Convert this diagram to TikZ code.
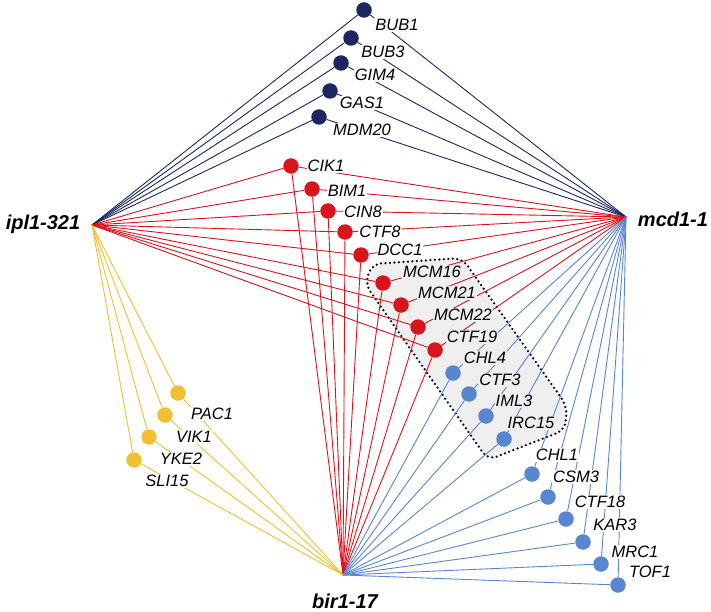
\documentclass[tikz,border=0pt]{standalone}
\usepackage{fontspec}
\setmainfont{Liberation Sans}
\definecolor{navy}{RGB}{28,38,97}
\definecolor{gred}{RGB}{218,20,28}
\definecolor{gyel}{RGB}{240,192,50}
\definecolor{gblue}{RGB}{88,134,208}
\definecolor{regiongray}{RGB}{239,239,239}
\pgfdeclarelayer{region}
\pgfdeclarelayer{lines}
\pgfsetlayers{region,lines,main}
\begin{document}
\begin{tikzpicture}[x=1pt,y=-1pt,
  dot/.style={circle, inner sep=0pt, minimum size=15.5pt},
  glabel/.style={font=\fontsize{16.5}{18}\selectfont\itshape, inner sep=1pt, fill=white},
  rlabel/.style={glabel, fill=regiongray},
  hublabel/.style={font=\fontsize{20}{22}\selectfont\bfseries\itshape, inner sep=0pt},
  nline/.style={draw=navy, line width=0.9pt},
  rline/.style={draw=gred, line width=0.9pt},
  yline/.style={draw=gyel, line width=0.9pt},
  bline/.style={draw=gblue, line width=0.9pt}]
\useasboundingbox (0,0) rectangle (711,612);
% hubs
\coordinate (ipl) at (92,225);
\coordinate (mcd) at (626,217);
\coordinate (bir) at (343,575);
\node[hublabel] (iplL) at (43,224) {ipl1-321};
\node[hublabel] (mcdL) at (673,219) {mcd1-1};
\node[hublabel] (birL) at (345,601) {bir1-17};
% region
\begin{pgfonlayer}{region}
\draw[fill=regiongray, draw=black, line width=2.5pt, dash pattern=on 0pt off 4.5pt, line cap=round, rounded corners=9pt]
  (372,264) -- (462,258) -- (567,406) -- (565,430) -- (488,460) -- (365,284) -- cycle;
\end{pgfonlayer}
% navy dots
\foreach \n/\x/\y in {BUB1/364/10, BUB3/351/38, GIM4/341/63, GAS1/330/91, MDM20/319/117}{
  \node[dot, fill=navy] (\n) at (\x,\y) {};
  \begin{pgfonlayer}{lines}
  \draw[nline] (ipl) -- (\n);
  \draw[nline] (\n) -- (mcd);
  \end{pgfonlayer}
}
% red dots
\foreach \n/\x/\y in {CIK1/291/166, BIM1/312/189, CIN8/328/211, CTF8/345/232, DCC1/361/255, MCM16/383/283, MCM21/401/305, MCM22/418/327, CTF19/435/350}{
  \node[dot, fill=gred] (\n) at (\x,\y) {};
  \begin{pgfonlayer}{lines}
  \draw[rline] (ipl) -- (\n);
  \draw[rline] (\n) -- (mcd);
  \draw[rline] (\n) -- (bir);
  \end{pgfonlayer}
}
% blue dots
\foreach \n/\x/\y in {CHL4/453/373, CTF3/469/394, IML3/486/416, IRC15/504/439, CHL1/532/474, CSM3/548/497, CTF18/566/519, KAR3/583/542, MRC1/601/564, TOF1/618/585}{
  \node[dot, fill=gblue] (\n) at (\x,\y) {};
  \begin{pgfonlayer}{lines}
  \draw[bline] (bir) -- (\n);
  \draw[bline] (\n) -- (mcd);
  \end{pgfonlayer}
}
% yellow dots
\foreach \n/\x/\y in {PAC1/178/393, VIK1/165/415, YKE2/149/437, SLI15/134/460}{
  \node[dot, fill=gyel] (\n) at (\x,\y) {};
  \begin{pgfonlayer}{lines}
  \draw[yline] (ipl) -- (\n);
  \draw[yline] (\n) -- (bir);
  \end{pgfonlayer}
}
% labels
\node[glabel] (BUB1L) at (397,25) {BUB1};
\node[glabel] (BUB3L) at (383,52) {BUB3};
\node[glabel] (GIM4L) at (375,75) {GIM4};
\node[glabel] (GAS1L) at (362,103) {GAS1};
\node[glabel] (MDM20L) at (362,130) {MDM20};
\node[glabel] (CIK1L) at (326,166) {CIK1};
\node[glabel] (BIM1L) at (347,191) {BIM1};
\node[glabel] (CIN8L) at (363,212) {CIN8};
\node[glabel] (CTF8L) at (380,232) {CTF8};
\node[glabel] (DCC1L) at (400,250) {DCC1};
\node[rlabel] (MCM16L) at (432,272) {MCM16};
\node[rlabel] (MCM21L) at (447,293) {MCM21};
\node[rlabel] (MCM22L) at (463,315) {MCM22};
\node[rlabel] (CTF19L) at (472,337) {CTF19};
\node[rlabel] (CHL4L) at (485,358) {CHL4};
\node[rlabel] (CTF3L) at (500,380) {CTF3};
\node[rlabel] (IML3L) at (514,401) {IML3};
\node[rlabel] (IRC15L) at (531,423) {IRC15};
\node[glabel] (CHL1L) at (557,455) {CHL1};
\node[glabel] (CSM3L) at (576,477) {CSM3};
\node[glabel] (CTF18L) at (600,502) {CTF18};
\node[glabel] (KAR3L) at (615,525) {KAR3};
\node[glabel] (MRC1L) at (635,552) {MRC1};
\node[glabel] (TOF1L) at (650,572) {TOF1};
\node[glabel] (PAC1L) at (212,414) {PAC1};
\node[glabel] (VIK1L) at (194,437) {VIK1};
\node[glabel] (YKE2L) at (181,459) {YKE2};
\node[glabel] (SLI15L) at (167,481) {SLI15};
\end{tikzpicture}
\end{document}
